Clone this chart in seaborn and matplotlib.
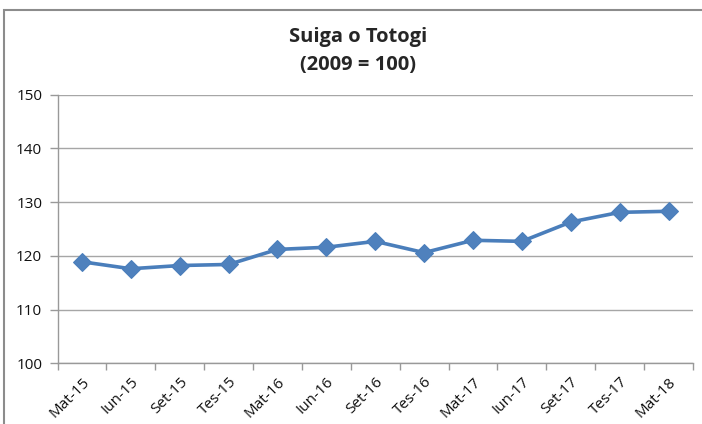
import matplotlib
matplotlib.use("Agg")
import matplotlib.pyplot as plt
import seaborn as sns
import numpy as np
import pandas as pd
from matplotlib.patches import Rectangle

categories = ["Mat-15", "Iun-15", "Set-15", "Tes-15", "Mat-16", "Iun-16", "Set-16",
              "Tes-16", "Mat-17", "Iun-17", "Set-17", "Tes-17", "Mat-18"]
values = [118.9, 117.6, 118.2, 118.4, 121.2, 121.6, 122.7,
          120.6, 122.9, 122.7, 126.3, 128.1, 128.3]
yticks = [100, 110, 120, 130, 140, 150]
title = "Suiga o Totogi\n(2009 = 100)"

sns.set_style("white")
plt.rcParams['font.family'] = ['Open Sans', 'DejaVu Sans']

fig = plt.figure(figsize=(7.02, 4.24), dpi=100)
ax = fig.add_axes([57.5/702, 1-363.3/424, (693-57.5)/702, (363.3-94.7)/424])

df = pd.DataFrame({"pos": np.arange(len(categories)), "val": values})
sns.lineplot(data=df, x="pos", y="val", ax=ax, color="#4A7EBB", linewidth=2.6,
             marker="D", markersize=9, markeredgecolor="#4A7EBB", markerfacecolor="#4F81BD")

ax.set_xlim(-0.5, len(categories) - 0.5)
ax.set_ylim(100, 150)
ax.set_yticks(yticks)
ax.set_yticklabels([str(t) for t in yticks], fontsize=11, color="#111111")
ax.set_xticks(np.arange(len(categories)))
ax.set_xticklabels(categories, rotation=45, ha="right", rotation_mode="anchor",
                   fontsize=11, color="#111111")
ax.set_xticks(np.arange(-0.5, len(categories), 1.0), minor=True)
ax.tick_params(axis="x", which="major", length=0, pad=8)
ax.tick_params(axis="x", which="minor", length=5, color="#999999", width=1, direction="out", bottom=True)
ax.tick_params(axis="y", length=6, color="#999999", width=1, direction="out", left=True, pad=5)
ax.set_xlabel("")
ax.set_ylabel("")

ax.grid(axis="y", color="#a6a6a6", linewidth=1)
ax.set_axisbelow(True)
for s in ["top", "right"]:
    ax.spines[s].set_visible(False)
for s in ["left", "bottom"]:
    ax.spines[s].set_color("#999999")
    ax.spines[s].set_linewidth(1)

fig.text(358/702, 1 - 51/424, title, ha="center", va="center",
         fontsize=14.5, fontweight="bold", linespacing=1.5)

frame = Rectangle((4/702, -0.05), 1.2, 1 - 10/424 + 0.05, transform=fig.transFigure,
                  fill=False, edgecolor="#8c8c8c", linewidth=1.5)
fig.patches.append(frame)

fig.savefig("out.png", dpi=100)
